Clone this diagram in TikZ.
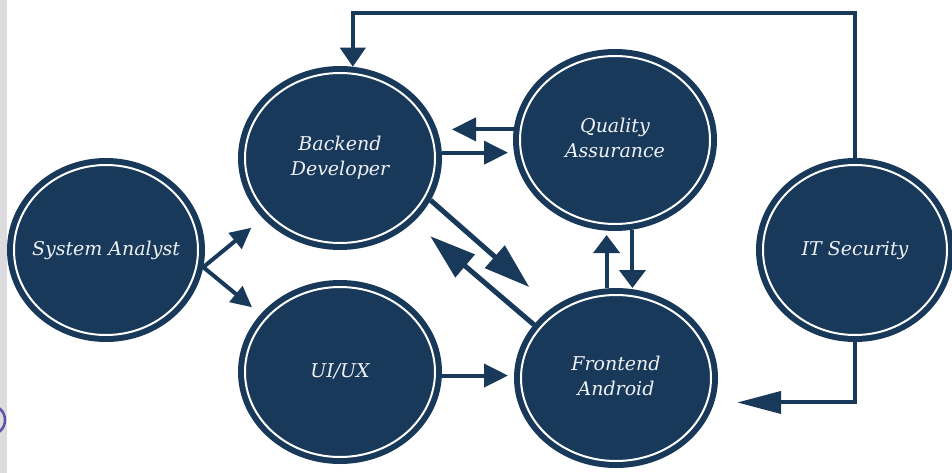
\documentclass[tikz,border=0pt]{standalone}
\usepackage{fontspec}
\setmainfont{DejaVu Serif}
\usetikzlibrary{shapes.geometric,arrows.meta,calc}
\definecolor{navy}{RGB}{24,57,90}
\definecolor{txt}{RGB}{238,240,243}
\definecolor{stripgray}{RGB}{220,220,222}
\definecolor{arcpurple}{RGB}{96,82,168}
\newcommand{\lbl}[1]{\makebox[0pt]{\begin{tabular}{@{}c@{}}#1\end{tabular}}}
\tikzset{
  bubble/.style={ellipse, fill=navy, draw=navy, double=white, double distance=2pt,
    line width=6pt, outer sep=7pt, inner sep=0pt, text=txt,
    font=\fontsize{19}{25}\selectfont\itshape},
  con/.style={draw=navy, line width=4pt, line join=miter},
  tipS/.style={-{Triangle[length=21pt,width=20pt]}},
  tipH/.style={-{Triangle[length=24pt,width=23pt]}},
  tipD/.style={-{Triangle[length=46pt,width=29pt]}},
  tipV/.style={-{Triangle[length=18pt,width=26pt]}},
  tipT/.style={-{Triangle[length=19pt,width=25pt]}},
  tipL/.style={-{Triangle[length=44pt,width=22pt]}}
}
\begin{document}
\begin{tikzpicture}[x=1pt,y=-1pt]
\path[use as bounding box] (0,0) rectangle (952,473);
\fill[white] (0,0) rectangle (952,473);
\begin{scope}
  \clip (0,0) rectangle (952,473);
  \fill[stripgray] (0,0) rectangle (7,473);
  \draw[arcpurple, line width=2.5pt] (-10,420) circle (15pt);
\end{scope}

\node[bubble, minimum width=184pt, minimum height=170pt] (sa) at (106,250) {\lbl{System Analyst}};
\node[bubble, minimum width=190pt, minimum height=170pt] (bd) at (340,158) {\lbl{Backend\\Developer}};
\node[bubble, minimum width=190pt, minimum height=168pt] (qa) at (615,140) {\lbl{Quality\\Assurance}};
\node[bubble, minimum width=184pt, minimum height=170pt] (it) at (855,250) {\lbl{IT Security}};
\node[bubble, minimum width=190pt, minimum height=170pt] (ux) at (340,372) {\lbl{UI/UX}};
\node[bubble, minimum width=190pt, minimum height=166pt] (fa) at (616,378) {\lbl{Frontend\\Android}};

\coordinate (topy) at (600,13);

\draw[con, tipS, shorten >=15pt] (sa.-10) -- (bd.218);
\draw[con, tipS, shorten >=11pt] (sa.-10) -- (ux.144);
\draw[con, tipH, shorten >=5pt] (bd.3) -- (bd.3 -| qa.west);
\draw[con, tipH, shorten >=10pt] (qa.174) -- (qa.174 -| bd.east);
\draw[con, tipD, line width=5pt, shorten >=31pt] (bd.-25) -- (fa.132);
\draw[con, tipD, line width=5pt, shorten >=22pt] (fa.147) -- (bd.-41);
\draw[con, tipV, shorten >=4pt] (fa.96) -- (fa.96 |- qa.south);
\draw[con, tipV] (qa.-79) -- (qa.-79 |- fa.north);
\draw[con, tipH, shorten >=6pt] (ux.-2) -- (ux.-2 -| fa.west);
\draw[con, tipT] (it.north) |- (topy) -| (bd.82);
\draw[con, tipL, shorten >=23pt] (it.south) |- (fa.-14);
\end{tikzpicture}
\end{document}
